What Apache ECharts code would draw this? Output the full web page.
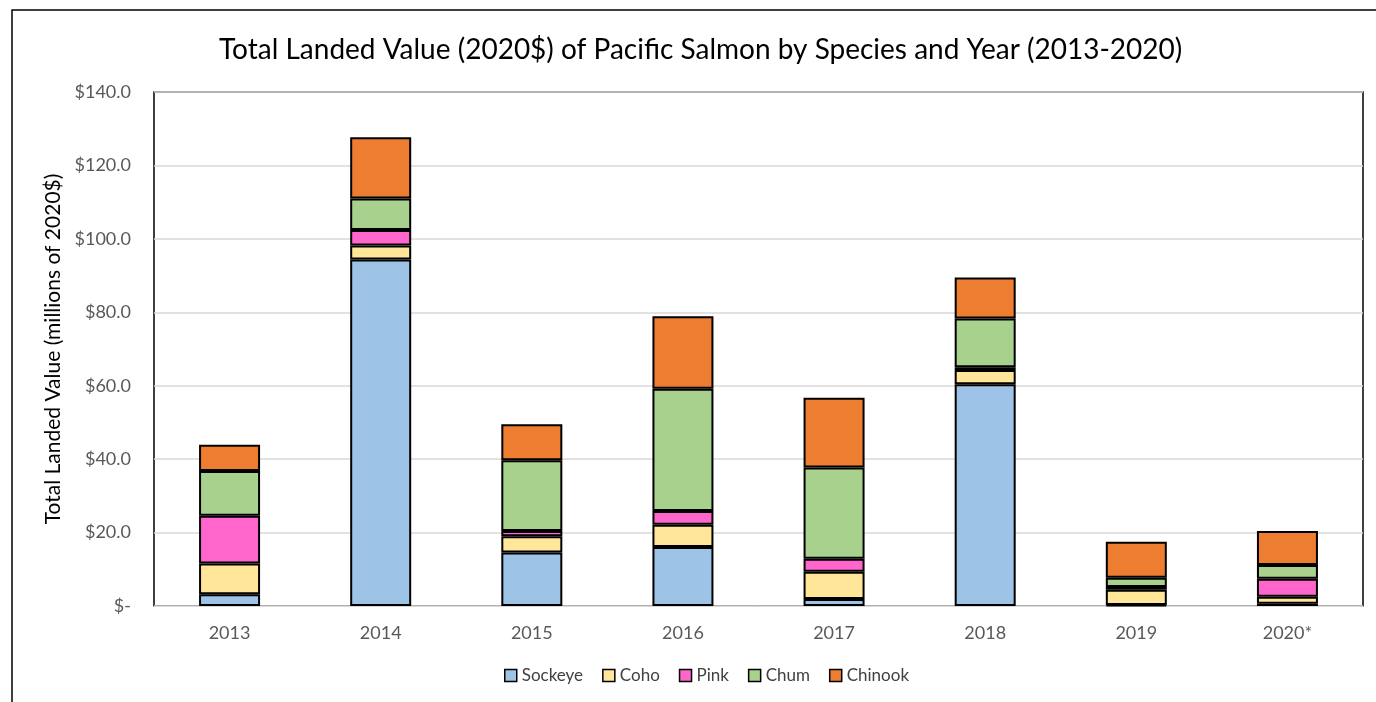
<!DOCTYPE html>
<html><head><meta charset="utf-8">
<script src="https://cdn.jsdelivr.net/npm/echarts@6/dist/echarts.min.js"></script>
<style>html,body{margin:0;padding:0;background:#fff}#c{width:1376px;height:702px}</style>
</head><body><div id="c"></div>
<script>
const years = ['2013','2014','2015','2016','2017','2018','2019','2020*'];
const sockeye = [3.2, 94.4, 14.6, 16.1, 1.9, 60.4, 0.3, 0.6];
const coho    = [8.4, 3.8, 4.4, 6.0, 7.4, 3.9, 4.1, 1.9];
const pink    = [13.0, 4.2, 1.4, 3.8, 3.6, 0.7, 0.8, 4.9];
const chum    = [12.2, 8.6, 19.3, 33.3, 24.8, 13.3, 2.5, 3.8];
const chinook = [7.1, 16.7, 9.8, 19.7, 19.0, 11.2, 9.8, 9.2];
const yTicks = [0, 20, 40, 60, 80, 100, 120, 140];

const font = 'Lato, Open Sans, sans-serif';
const mk = (name, data, color) => ({
  name, type: 'bar', stack: 'all', data, barWidth: 61,
  itemStyle: { color, borderColor: '#000', borderWidth: 2 }
});
const chart = echarts.init(document.getElementById('c'));
chart.setOption({
  animation: false,
  title: { text: 'Total Landed Value (2020$) of Pacific Salmon by Species and Year (2013-2020)',
    left: 214, top: 31, textStyle: { fontFamily: font, fontSize: 28, fontWeight: 'normal', color: '#000' } },
  graphic: [{ type: 'rect', shape: { x: 12, y: 10, width: 1380, height: 720 },
    style: { fill: 'none', stroke: '#000', lineWidth: 1.5 }, silent: true, z: -1 }],
  legend: { bottom: 13, left: 499, itemWidth: 12, itemHeight: 12, itemGap: 19,
    textStyle: { fontFamily: font, fontSize: 17, color: '#404040' },
    data: ['Sockeye','Coho','Pink','Chum','Chinook'].map(n => ({ name: n, icon: 'rect',
      itemStyle: { borderColor: '#000', borderWidth: 1.5 } })) },
  grid: { left: 154, right: 13, top: 92, bottom: 96, show: true, borderColor: '#000', borderWidth: 1.5, containLabel: false },
  xAxis: { type: 'category', data: years,
    axisLine: { show: true, lineStyle: { color: '#d9d9d9', width: 1 } }, axisTick: { show: false },
    axisLabel: { fontFamily: font, fontSize: 18, color: '#595959', margin: 18 } },
  yAxis: { type: 'value', min: yTicks[0], max: yTicks[yTicks.length-1], interval: 20,
    name: 'Total Landed Value (millions of 2020$)', nameLocation: 'middle', nameGap: 88,
    nameTextStyle: { fontFamily: font, fontSize: 21, color: '#000' },
    axisLine: { show: false }, axisTick: { show: false },
    splitLine: { lineStyle: { color: '#d9d9d9', width: 1.5 } },
    axisLabel: { fontFamily: font, fontSize: 18, color: '#595959', margin: 23,
      formatter: v => v === 0 ? '$-' : '$' + v.toFixed(1) } },
  series: [
    mk('Sockeye', sockeye, '#9dc3e6'),
    mk('Coho', coho, '#ffe699'),
    mk('Pink', pink, '#ff66cc'),
    mk('Chum', chum, '#a9d18e'),
    mk('Chinook', chinook, '#ed7d31')
  ]
});
</script></body></html>
